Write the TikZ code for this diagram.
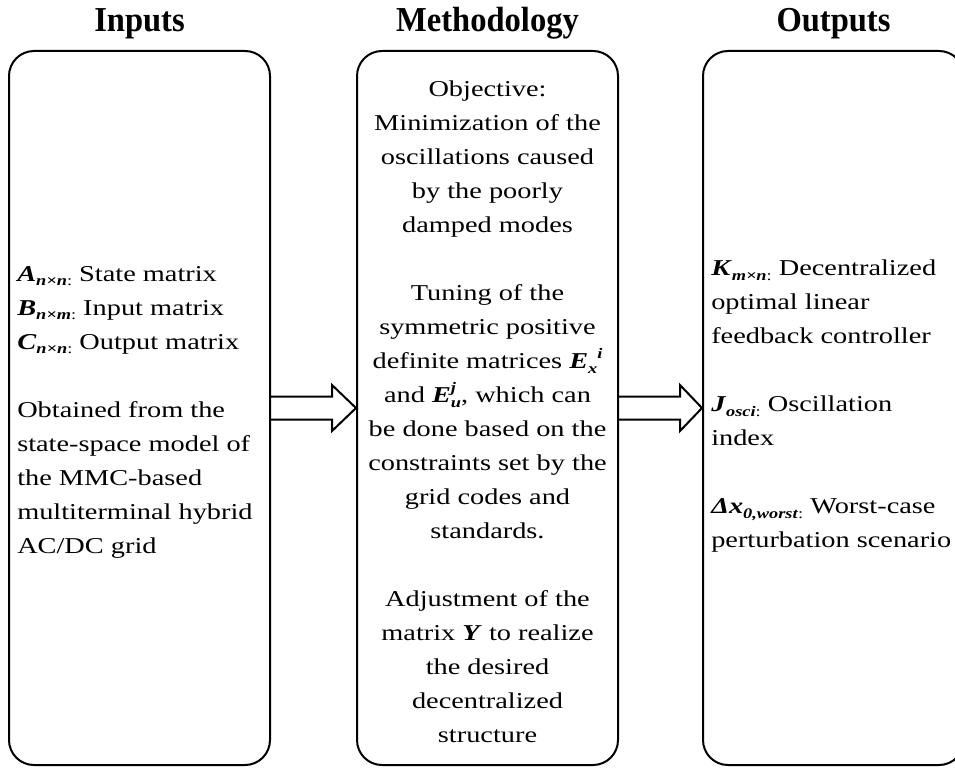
\documentclass[tikz,border=0pt]{standalone}
\usepackage{fontspec}
\setmainfont[FakeStretch=1.25]{Liberation Serif}
\newfontfamily\titlefont[FakeStretch=0.93]{Liberation Serif}
\usetikzlibrary{calc}
\newcommand\bi[1]{\textbf{\textit{#1}}}
\newcommand\subb[1]{\raisebox{-0.45ex}{\fontsize{11pt}{11pt}\selectfont\bi{#1}}}
\newcommand\supb[1]{\raisebox{0.95ex}{\fontsize{11pt}{11pt}\selectfont\bi{#1}}}
\newcommand\lcolon{\raisebox{-0.45ex}{\fontsize{11pt}{11pt}\selectfont :}}
\tikzset{
  panel/.style={draw, line width=1.5pt, rounded corners=18.75pt, minimum width=195.75pt, minimum height=535.5pt, inner sep=0pt},
  title/.style={font=\titlefont\bfseries\fontsize{26.25pt}{30pt}\selectfont, anchor=base, inner sep=0pt},
  bodytext/.style={font=\fontsize{17pt}{25.5pt}\selectfont, inner sep=0pt},
  blockarrow/.style={draw, line width=1.5pt, line join=miter}
}
\begin{document}
\begin{tikzpicture}[x=0.75pt, y=-0.75pt]
\useasboundingbox (0,0) rectangle (955,767);
\clip (0,0) rectangle (955,767);

\node[title] (tin) at (139.5,32) {Inputs};
\node[title] (tmid) at (487.5,32) {Methodology};
\node[title] (tout) at (833.5,32) {Outputs};

\node[panel] (in) at (139.5,408) {};
\node[panel] (mid) at (487.5,408) {};
\node[panel] (out) at (833.5,408) {};

\node[bodytext, align=left, anchor=west] (intext) at ($(in.west)+(9,4)$) {%
\bi{A}\subb{n×n}\lcolon{} State matrix\\
\bi{B}\subb{n×m}\lcolon{} Input matrix\\
\bi{C}\subb{n×n}\lcolon{} Output matrix\\[25.5pt]
Obtained from the\\
state-space model of\\
the MMC-based\\
multiterminal hybrid\\
AC/DC grid};

\node[bodytext, align=center] (midtext) at ($(mid.center)+(0,4)$) {%
Objective:\\
Minimization of the\\
oscillations caused\\
by the poorly\\
damped modes\\[25.5pt]
Tuning of the\\
symmetric positive\\
definite matrices \bi{E}\subb{x}\supb{i}\\
and \bi{E}\rlap{\supb{j}}\subb{u}, which can\\
be done based on the\\
constraints set by the\\
grid codes and\\
standards.\\[25.5pt]
Adjustment of the\\
matrix \bi{Y} to realize\\
the desired\\
decentralized\\
structure};

\node[bodytext, align=left, anchor=west] (outtext) at ($(out.west)+(9,-2)$) {%
\bi{K}\subb{m×n}\lcolon{} Decentralized\\
optimal linear\\
feedback controller\\[25.5pt]
\bi{J}\subb{osci}\lcolon{} Oscillation\\
index\\[25.5pt]
\bi{Δx}\subb{0,worst}\lcolon{} Worst-case\\
perturbation scenario};

\draw[blockarrow] ($(in.east)+(0,-11.5)$) -- ($(mid.west)+(-24,-11.5)$) -- ($(mid.west)+(-24,-23)$) -- (mid.west) -- ($(mid.west)+(-24,23)$) -- ($(mid.west)+(-24,11.5)$) -- ($(in.east)+(0,11.5)$);
\draw[blockarrow] ($(mid.east)+(0,-11.5)$) -- ($(out.west)+(-22,-11.5)$) -- ($(out.west)+(-22,-23)$) -- (out.west) -- ($(out.west)+(-22,23)$) -- ($(out.west)+(-22,11.5)$) -- ($(mid.east)+(0,11.5)$);
\end{tikzpicture}
\end{document}
